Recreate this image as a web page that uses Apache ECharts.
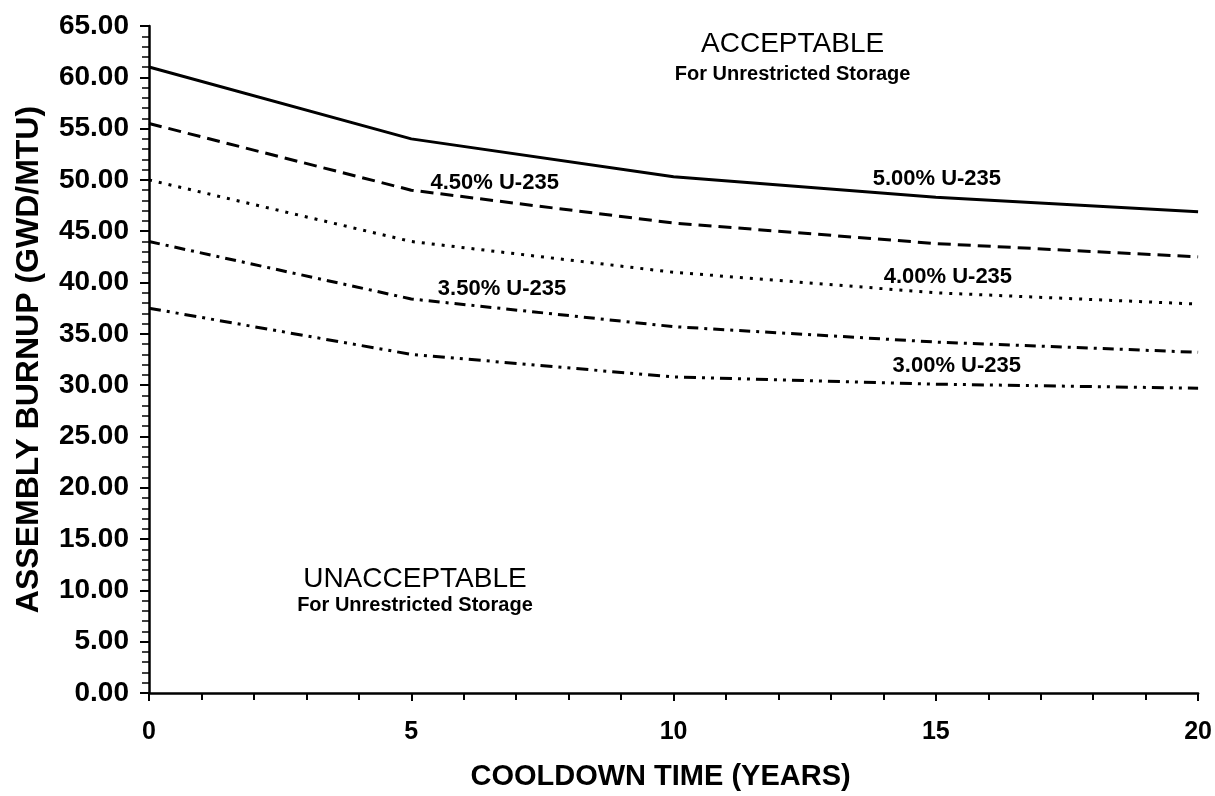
<!DOCTYPE html>
<html>
<head>
<meta charset="utf-8">
<script src="https://cdn.jsdelivr.net/npm/echarts@6/dist/echarts.min.js"></script>
<style>
html,body{margin:0;padding:0;background:#fff;}
#chart{width:1215px;height:796px;}
</style>
</head>
<body>
<div id="chart"></div>
<script>
// Data
var years = [0, 5, 10, 15, 20];
var u500 = [61.0, 54.0, 50.3, 48.3, 46.9];
var u450 = [55.5, 49.0, 45.8, 43.8, 42.5];
var u400 = [50.0, 44.0, 41.0, 39.0, 37.9];
var u350 = [44.0, 38.4, 35.7, 34.2, 33.2];
var u300 = [37.5, 33.0, 30.8, 30.1, 29.7];
var seriesNames = ['5.00% U-235', '4.50% U-235', '4.00% U-235', '3.50% U-235', '3.00% U-235'];
var xTicks = [0, 5, 10, 15, 20];
var yTicks = [0, 5, 10, 15, 20, 25, 30, 35, 40, 45, 50, 55, 60, 65];

var FONT = '"Liberation Sans", Arial, Helvetica, sans-serif';
function pairs(ys) { return years.map(function (x, i) { return [x, ys[i]]; }); }

var dashes = ['solid', [13, 7], [3, 7], [11, 6, 3, 6], [12, 6, 3, 6, 3, 6]];
var values = [u500, u450, u400, u350, u300];
// label anchor positions in data units
var labelPos = [[15.02, 50.05], [6.59, 49.75], [15.23, 40.55], [6.73, 39.35], [15.4, 31.9]];

var series = values.map(function (v, i) {
  return {
    name: seriesNames[i],
    type: 'line',
    data: pairs(v),
    symbol: 'none',
    silent: true,
    lineStyle: { color: '#000', width: 3, type: dashes[i] },
    markPoint: {
      symbol: 'circle', symbolSize: 0, silent: true,
      label: { show: true, position: 'inside', color: '#000', fontFamily: FONT, fontSize: 22, fontWeight: 'bold',
        formatter: seriesNames[i] },
      data: [{ coord: labelPos[i] }]
    }
  };
});

// region annotations
series.push({
  type: 'scatter', data: [], silent: true,
  markPoint: {
    symbol: 'circle', symbolSize: 0, silent: true,
    data: [
      { coord: [12.27, 63.2], label: { show: true, formatter: 'ACCEPTABLE', fontSize: 28, fontWeight: 'normal', color: '#000', fontFamily: FONT } },
      { coord: [12.27, 60.3], label: { show: true, formatter: 'For Unrestricted Storage', fontSize: 20, fontWeight: 'bold', color: '#000', fontFamily: FONT } },
      { coord: [5.07, 11.1], label: { show: true, formatter: 'UNACCEPTABLE', fontSize: 28, fontWeight: 'normal', color: '#000', fontFamily: FONT } },
      { coord: [5.07, 8.5], label: { show: true, formatter: 'For Unrestricted Storage', fontSize: 20, fontWeight: 'bold', color: '#000', fontFamily: FONT } }
    ]
  }
});

var chart = echarts.init(document.getElementById('chart'), null, { renderer: 'canvas' });
chart.setOption({
  animation: false,
  backgroundColor: '#fff',
  grid: { left: 149, right: 16, top: 26, bottom: 103, containLabel: false },
  xAxis: {
    type: 'value', min: xTicks[0], max: xTicks[xTicks.length - 1], interval: 5,
    name: 'COOLDOWN TIME (YEARS)', nameLocation: 'middle', nameGap: 69,
    nameTextStyle: { color: '#000', fontFamily: FONT, fontSize: 29, fontWeight: 'bold', padding: [0, 26, 0, 0] },
    axisLine: { show: true, onZero: false, lineStyle: { color: '#000', width: 2.5 } },
    axisTick: { show: true, inside: false, length: 8, lineStyle: { color: '#000', width: 2 } },
    minorTick: { show: true, splitNumber: 5, length: 7, lineStyle: { color: '#000', width: 2 } },
    splitLine: { show: false },
    axisLabel: { color: '#000', fontFamily: FONT, fontSize: 25, fontWeight: 'bold', margin: 27 }
  },
  yAxis: {
    type: 'value', min: yTicks[0], max: yTicks[yTicks.length - 1], interval: 5,
    name: 'ASSEMBLY BURNUP (GWD/MTU)', nameLocation: 'middle', nameGap: 104,
    nameTextStyle: { color: '#000', fontFamily: FONT, fontSize: 32, fontWeight: 'bold' },
    axisLine: { show: true, onZero: false, lineStyle: { color: '#000', width: 2.5 } },
    axisTick: { show: true, inside: false, length: 9, lineStyle: { color: '#000', width: 2 } },
    minorTick: { show: true, splitNumber: 5, length: 7, lineStyle: { color: '#000', width: 1.5 } },
    splitLine: { show: false },
    axisLabel: { color: '#000', fontFamily: FONT, fontSize: 28, fontWeight: 'bold', margin: 20,
      formatter: function (v) { return v.toFixed(2); } }
  },
  series: series
});
</script>
</body>
</html>
